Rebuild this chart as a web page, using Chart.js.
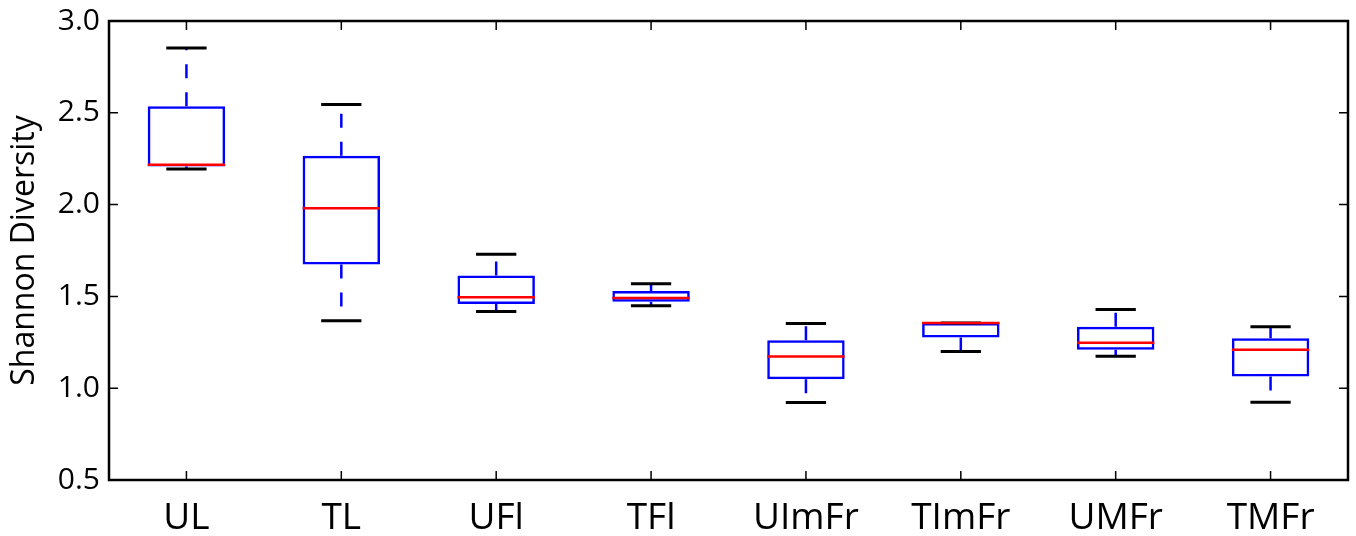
<!DOCTYPE html>
<html>
<head>
<meta charset="utf-8">
<script src="https://cdn.jsdelivr.net/npm/chart.js@4/dist/chart.umd.min.js"></script>
<style>
  html, body { margin: 0; padding: 0; background: #fff; }
  #wrap { width: 1356px; height: 536px; position: relative; }
</style>
</head>
<body>
<div id="wrap"><canvas id="chart-shannon"></canvas></div>
<script>
// Shannon diversity per sample group
const categories = ['UL', 'TL', 'UFl', 'TFl', 'UImFr', 'TImFr', 'UMFr', 'TMFr'];
const whiskerLow = [2.194, 1.368, 1.418, 1.449, 0.922, 1.200, 1.174, 0.924];
const q1 = [2.207, 1.674, 1.459, 1.471, 1.049, 1.276, 1.209, 1.064];
const median = [2.217, 1.980, 1.495, 1.491, 1.172, 1.355, 1.248, 1.209];
const q3 = [2.536, 2.266, 1.614, 1.529, 1.261, 1.355, 1.335, 1.272];
const whiskerHigh = [2.853, 2.545, 1.730, 1.569, 1.352, 1.355, 1.428, 1.335];
const yTicks = [0.5, 1.0, 1.5, 2.0, 2.5, 3.0];

const BLUE = '#0000ff';
const RED = '#ff0000';
const FONT = "'Open Sans', sans-serif";
const CAP_HALF = 0.13;
const BOX_HALF = 0.25;

// horizontal segments at each category, split by null gaps
function hSegments(values, half) {
  const out = [];
  values.forEach((v, i) => {
    out.push({ x: i + 1 - half, y: v }, { x: i + 1 + half, y: v }, { x: i + 1, y: null });
  });
  return out;
}

// whiskers start at the box so the dash pattern begins there
const whiskerData = [];
categories.forEach((c, i) => {
  whiskerData.push({ x: i + 1, y: q3[i] }, { x: i + 1, y: whiskerHigh[i] }, { x: i + 1, y: null });
  whiskerData.push({ x: i + 1, y: q1[i] }, { x: i + 1, y: whiskerLow[i] }, { x: i + 1, y: null });
});

// matplotlib style frame with inward ticks on all sides
const framePlugin = {
  id: 'frame',
  afterDatasetsDraw(chart) {
    const { ctx, chartArea: a, scales: { x, y } } = chart;
    ctx.save();
    ctx.strokeStyle = '#000';
    ctx.lineWidth = 1.5;
    ctx.beginPath();
    x.ticks.forEach(t => {
      const px = x.getPixelForValue(t.value);
      ctx.moveTo(px, a.bottom); ctx.lineTo(px, a.bottom - 9);
      ctx.moveTo(px, a.top); ctx.lineTo(px, a.top + 9);
    });
    y.ticks.forEach(t => {
      const py = y.getPixelForValue(t.value);
      ctx.moveTo(a.left, py); ctx.lineTo(a.left + 9, py);
      ctx.moveTo(a.right, py); ctx.lineTo(a.right - 9, py);
    });
    ctx.stroke();
    ctx.lineWidth = 2.5;
    ctx.strokeRect(a.left, a.top, a.right - a.left, a.bottom - a.top);
    ctx.restore();
  }
};

document.addEventListener('DOMContentLoaded', () => {
  const ctx = document.getElementById('chart-shannon').getContext('2d');
  new Chart(ctx, {
    type: 'bar',
    plugins: [framePlugin],
    data: {
      datasets: [
        {
          // medians
          type: 'line',
          data: hSegments(median, BOX_HALF),
          borderColor: RED,
          borderWidth: 2.5,
          pointRadius: 0,
          spanGaps: false,
          order: 0,
        },
        {
          // caps
          type: 'line',
          data: hSegments(whiskerLow, CAP_HALF).concat(hSegments(whiskerHigh, CAP_HALF)),
          borderColor: '#000',
          borderWidth: 3,
          pointRadius: 0,
          spanGaps: false,
          order: 1,
        },
        {
          // whiskers
          type: 'line',
          data: whiskerData,
          borderColor: BLUE,
          borderWidth: 2.5,
          borderDash: [14, 14],
          pointRadius: 0,
          spanGaps: false,
          order: 2,
        },
        {
          // boxes
          type: 'bar',
          data: categories.map((c, i) => ({ x: i + 1, y: [q1[i], q3[i]] })),
          backgroundColor: 'rgba(0,0,0,0)',
          borderColor: BLUE,
          borderWidth: 2.5,
          borderSkipped: false,
          barPercentage: 0.5,
          categoryPercentage: 1,
          order: 3,
        },
      ],
    },
    options: {
      responsive: true,
      maintainAspectRatio: false,
      animation: false,
      layout: { padding: { top: 21, right: 8, left: 0, bottom: 0 } },
      plugins: {
        legend: { display: false },
        tooltip: { enabled: false },
      },
      scales: {
        x: {
          type: 'linear',
          min: 0.5,
          max: 8.5,
          offset: false,
          grid: { display: false, drawTicks: false, offset: false },
          border: { display: false },
          afterBuildTicks: (scale) => {
            scale.ticks = categories.map((c, i) => ({ value: i + 1 }));
          },
          afterFit: (scale) => {
            scale.height = 56;
            scale.paddingLeft = 0;
            scale.paddingRight = 0;
          },
          ticks: {
            callback: (v) => categories[v - 1],
            font: { family: FONT, size: 37 },
            color: '#000',
            padding: 16,
            maxRotation: 0,
            autoSkip: false,
          },
        },
        y: {
          min: 0.5,
          max: 3.0,
          grid: { display: false, drawTicks: false },
          border: { display: false },
          afterBuildTicks: (scale) => {
            scale.ticks = yTicks.map(v => ({ value: v }));
          },
          afterFit: (scale) => {
            scale.width = 109;
            scale.paddingTop = 0;
            scale.paddingBottom = 0;
          },
          ticks: {
            callback: (v) => v.toFixed(1),
            font: { family: FONT, size: 30 },
            color: '#000',
            padding: 9,
          },
          title: {
            display: true,
            text: 'Shannon Diversity',
            font: { family: FONT, size: 32 },
            color: '#000',
            padding: { top: 6, bottom: 0 },
          },
        },
      },
    },
  });
});
</script>
</body>
</html>
